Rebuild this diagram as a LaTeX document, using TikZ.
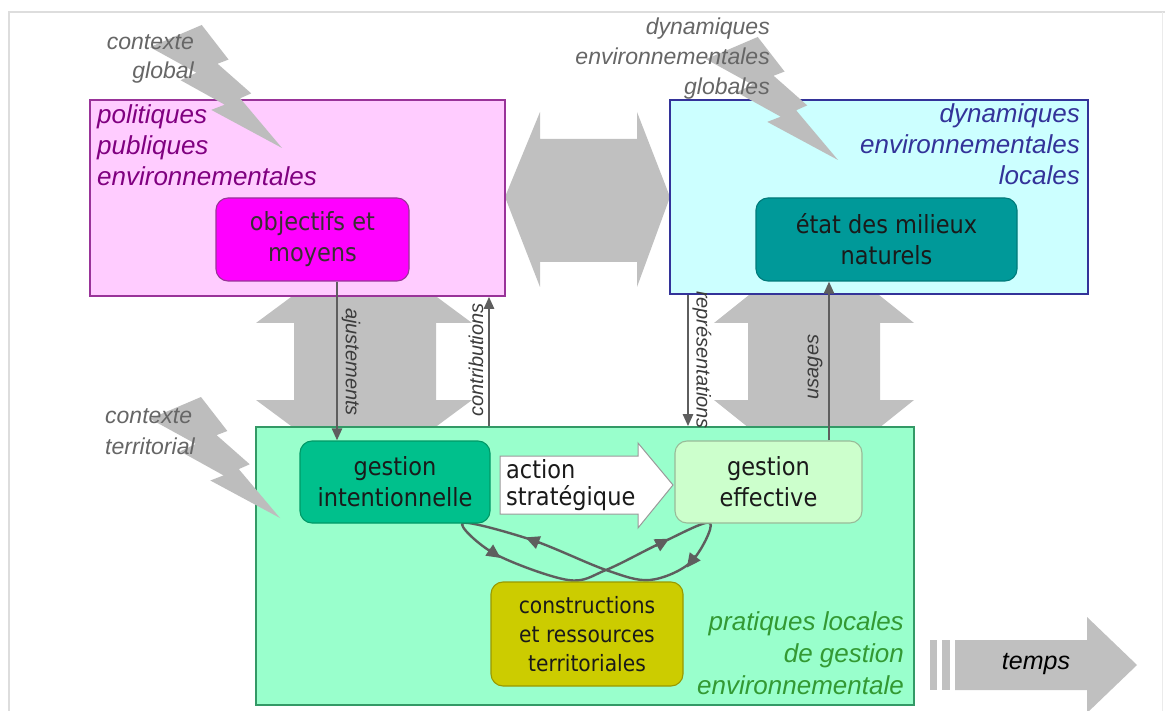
\documentclass[tikz,border=0pt]{standalone}
\usepackage{fontspec}
\setmainfont{Liberation Sans}
\newfontfamily\boxfont[FakeStretch=0.9]{DejaVu Sans}
\usetikzlibrary{arrows.meta}
\definecolor{pinkfill}{HTML}{FFCCFF}
\definecolor{pinkline}{HTML}{993399}
\definecolor{pinktext}{HTML}{800080}
\definecolor{magfill}{HTML}{FF00FF}
\definecolor{cyanfill}{HTML}{CCFFFF}
\definecolor{cyanline}{HTML}{333399}
\definecolor{tealfill}{HTML}{009999}
\definecolor{tealline}{HTML}{007A7A}
\definecolor{greenfill}{HTML}{99FFCC}
\definecolor{greenline}{HTML}{339966}
\definecolor{gifill}{HTML}{00C08C}
\definecolor{giline}{HTML}{009966}
\definecolor{gefill}{HTML}{CCFFCC}
\definecolor{geline}{HTML}{99BB99}
\definecolor{consfill}{HTML}{CCCC00}
\definecolor{consline}{HTML}{999900}
\definecolor{greentext}{HTML}{339933}
\definecolor{biggray}{HTML}{C0C0C0}
\definecolor{boltgray}{HTML}{BDBDBD}
\definecolor{conngray}{HTML}{5E5E5E}
\definecolor{labgray}{HTML}{666666}
\definecolor{darktext}{HTML}{1A1A1A}
\definecolor{framegray}{HTML}{DDDDDD}
\newcommand{\zapshape}[4]{%
  \fill[boltgray] ({#1+0.392*#3},{#2}) -- ({#1+0.595*#3},{#2+0.281*#4}) -- ({#1+0.512*#3},{#2+0.315*#4})
   -- ({#1+0.767*#3},{#2+0.556*#4}) -- ({#1+0.683*#3},{#2+0.596*#4}) -- ({#1+#3},{#2+#4})
   -- ({#1+0.464*#3},{#2+0.690*#4}) -- ({#1+0.566*#3},{#2+0.648*#4}) -- ({#1+0.232*#3},{#2+0.449*#4})
   -- ({#1+0.352*#3},{#2+0.388*#4}) -- ({#1},{#2+0.180*#4}) -- cycle;}
\tikzset{
  bigarrow/.style={fill=biggray, draw=none},
  zone/.style={draw, line width=1.6pt},
  ibox/.style={draw, rounded corners=12pt, line width=1.1pt, align=center, inner sep=0pt,
    text=darktext, font=\boxfont\fontsize{25}{31}\selectfont},
  conn/.style={draw=conngray, color=conngray, line width=2.4pt},
  tipA/.style={-{Triangle[length=12pt,width=10pt]}},
  looptip/.style={conn, -{Triangle[length=14pt,width=13pt]}},
  zonelabel/.style={inner sep=0pt, font=\itshape\fontsize{26}{31}\selectfont},
  ctxlabel/.style={inner sep=0pt, text=labgray, font=\itshape\fontsize{23}{30}\selectfont},
  connlabel/.style={inner sep=0pt, text=darktext!85, font=\itshape\fontsize{20}{22}\selectfont}
}
\begin{document}
\begin{tikzpicture}[x=1pt,y=-1pt]
\useasboundingbox (0,0) rectangle (1165,711);
\fill[white] (0,0) rectangle (1165,711);
% frame
\draw[framegray, line width=1.2pt] (9,711) -- (9,12) -- (1165,12);
\draw[framegray!60, line width=0.8pt] (1162,12) -- (1162,711);

% big gray arrows (behind the zones)
\fill[bigarrow] (505,197) -- (540,112) -- (540,139) -- (637,139) -- (637,112) -- (670,197)
  -- (637,287) -- (637,262) -- (540,262) -- (540,287) -- cycle;
\fill[bigarrow] (364,243) -- (472,323) -- (436,323) -- (436,400) -- (472,400) -- (364,480)
  -- (256,400) -- (294,400) -- (294,323) -- (256,323) -- cycle;
\fill[bigarrow] (814,243) -- (914,323) -- (880,323) -- (880,400) -- (914,400) -- (814,480)
  -- (714,400) -- (748,400) -- (748,323) -- (714,323) -- cycle;

% zones
\node[zone, draw=pinkline, fill=pinkfill, minimum width=415pt, minimum height=196pt, inner sep=0pt] (pol) at (297.5,198) {};
\node[zone, draw=cyanline, fill=cyanfill, minimum width=418pt, minimum height=194pt, inner sep=0pt] (dyn) at (879,197) {};
\node[zone, draw=greenline, fill=greenfill, minimum width=658pt, minimum height=278pt, inner sep=0pt] (pra) at (585,566) {};

% lightning bolts
\zapshape{150}{25}{132}{123}
\zapshape{706}{37}{132}{123}
\zapshape{150}{397}{130}{121}

% figure-eight loop between the two management boxes (drawn before the boxes)
\coordinate (loopL) at (463,523);
\coordinate (loopR) at (710,523);
\coordinate (a1) at (495,554);
\coordinate (abot) at (568,580);
\coordinate (cross) at (606,570);
\coordinate (a2) at (663,542);
\coordinate (b1) at (691,562);
\coordinate (bbot) at (650,580);
\coordinate (b2) at (532,540);
\draw[conn] plot[smooth cycle, tension=0.55] coordinates
  {(loopL) (a1) (abot) (cross) (a2) (loopR) (b1) (bbot) (cross) (b2)};
% arrowheads along the loop
\draw[looptip] (488.4,549.5) -- (500.7,558);
\draw[looptip] (656,545.8) -- (669.2,538.7);
\draw[looptip] (695.8,555.6) -- (686.8,567.6);
\draw[looptip] (539.5,543) -- (525.5,537.4);

% inner boxes
\node[ibox, draw=pinkline, fill=magfill, minimum width=193pt, minimum height=83pt, text=black!90!magenta] (obj) at (312.5,239.5) {objectifs et\\moyens};
\node[ibox, draw=tealline, fill=tealfill, minimum width=261pt, minimum height=83pt] (etat) at (886.5,239.5) {état des milieux\\naturels};
\node[ibox, draw=giline, fill=gifill, minimum width=190pt, minimum height=82pt] (gi) at (395,482) {gestion\\intentionnelle};
\node[ibox, draw=geline, fill=gefill, minimum width=187pt, minimum height=82pt] (ge) at (768.5,482) {gestion\\effective};
\node[ibox, draw=consline, fill=consfill, minimum width=192pt, minimum height=104pt, font=\boxfont\fontsize{22.5}{29}\selectfont] (cons) at (587,634) {constructions\\et ressources\\territoriales};

% action strategique arrow
\draw[fill=white, draw=black!40, line width=1pt] (500,456) coordinate (asA) -- (638,456) -- (638,443) -- (673,485) coordinate (asTip)
  -- (638,528) -- (638,514) -- (500,514) -- cycle;
\node[anchor=base west, inner sep=0pt, align=left, text=darktext, font=\boxfont\fontsize{25}{27}\selectfont] (act) at (506,505) {action\\stratégique};

% vertical connectors
\draw[conn, tipA] (obj.south -| 337,0) -- (gi.north -| 337,0);
\draw[conn, tipA] (pra.north -| 489,0) -- (pol.south -| 489,0);
\draw[conn, tipA] (dyn.south -| 688,0) -- (pra.north -| 688,0);
\draw[conn, tipA] (ge.north -| 829,0) -- (etat.south -| 829,0);
\node[connlabel, rotate=-90] (lajust) at (351,362) {ajustements};
\node[connlabel, rotate=90] (lcontr) at (476,360) {contributions};
\node[connlabel, rotate=-90] (lrepr) at (702,360) {représentations};
\node[connlabel, rotate=90] (lusag) at (815,367) {usages};

% zone labels
\node[zonelabel, anchor=base west, align=left, text=pinktext] (tpol) at (97,186) {politiques\\publiques\\environnementales};
\node[zonelabel, anchor=base east, align=right, text=cyanline] (tdyn) at (1080,185) {dynamiques\\environnementales\\locales};
\node[zonelabel, anchor=base east, align=right, text=greentext, font=\itshape\fontsize{26}{32}\selectfont] (tpra) at (904,694) {pratiques locales\\de gestion\\environnementale};

% context labels
\node[ctxlabel, anchor=base east, align=right, font=\itshape\fontsize{23}{29}\selectfont] (tglob) at (194,79) {contexte\\global};
\node[ctxlabel, anchor=base east, align=right] (tdeg) at (770,95) {dynamiques\\environnementales\\globales};
\node[ctxlabel, anchor=base west, align=left, font=\itshape\fontsize{23}{31}\selectfont] (tterr) at (105,454) {contexte\\territorial};

% temps arrow
\fill[bigarrow] (930,640) rectangle (937,690);
\fill[bigarrow] (942,640) rectangle (950,690);
\fill[bigarrow] (955,640) -- (1087,640) -- (1087,617) -- (1137,665) -- (1087,713) -- (1087,690) -- (955,690) -- cycle;
\node[inner sep=0pt, text=black, font=\itshape\fontsize{25}{30}\selectfont] (temps) at (1036,664) {temps};
\end{tikzpicture}
\end{document}
